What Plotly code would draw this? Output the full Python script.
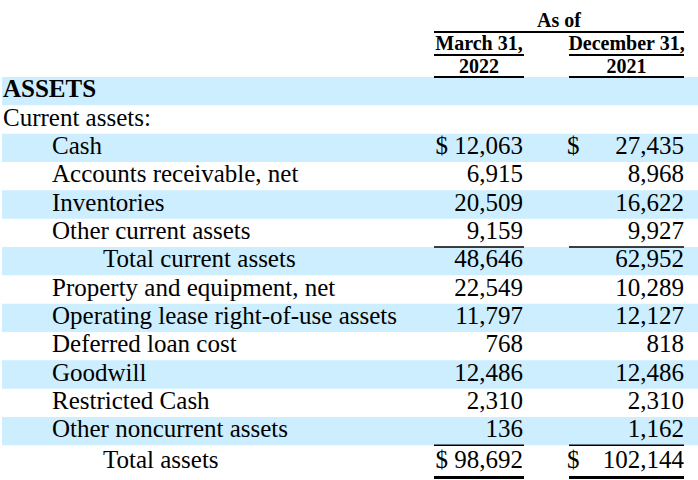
import plotly.graph_objects as go

labels = ["ASSETS", "Current assets:", "Cash", "Accounts receivable, net", "Inventories",
          "Other current assets", "Total current assets", "Property and equipment, net",
          "Operating lease right-of-use assets", "Deferred loan cost", "Goodwill",
          "Restricted Cash", "Other noncurrent assets", "Total assets"]
indent = [0, 0, 1, 1, 1, 1, 2, 1, 1, 1, 1, 1, 1, 2]
mar_2022 = [None, None, 12063, 6915, 20509, 9159, 48646, 22549, 11797, 768, 12486, 2310, 136, 98692]
dec_2021 = [None, None, 27435, 8968, 16622, 9927, 62952, 10289, 12127, 818, 12486, 2310, 1162, 102144]
dollar_rows = [2, 13]

FONT = "Liberation Serif, Times New Roman, serif"
top, h = 77, 28.33
indent_x = [3, 52, 103]
col1_l, col1_r = 434, 524
col2_l, col2_r = 569, 684

def yc(i):
    # the grand total row sits a little lower (extra padding above it)
    return top + h * i + h / 2 + (2.5 if i == 13 else 0)

fig = go.Figure()

shapes = []
for i in range(len(labels)):
    if i % 2 == 0 and i < 13:
        shapes.append(dict(type="rect", x0=2, x1=700, y0=top + h * i, y1=top + h * (i + 1),
                           fillcolor="#CCEEFF", line_width=0, layer="below"))

def hline(x0, x1, y, w=1.5):
    shapes.append(dict(type="line", x0=x0, x1=x1, y0=y, y1=y, line=dict(color="black", width=w)))

hline(col1_l, col2_r, 32, 2)
hline(col1_l, col1_r, 55, 2)
hline(col2_l, col2_r, 55, 2)
hline(col1_l, col1_r, 77, 2)
hline(col2_l, col2_r, 77, 2)
for r in (5, 12):
    hline(col1_l, col1_r, top + h * (r + 1))
    hline(col2_l, col2_r, top + h * (r + 1))
hline(col1_l, col1_r, 477.5, 3)
hline(col2_l, col2_r, 477.5, 3)

# row labels
fig.add_trace(go.Scatter(
    x=[indent_x[k] for k in indent], y=[yc(i) for i in range(len(labels))],
    mode="text", textposition="middle right",
    text=["<b>%s</b>" % t if i == 0 else t for i, t in enumerate(labels)],
    textfont=dict(family=FONT, size=25, color="black"), hoverinfo="skip"))

# March 31, 2022 column
rows1 = [i for i, v in enumerate(mar_2022) if v is not None]
fig.add_trace(go.Scatter(
    x=[col1_r - 1] * len(rows1), y=[yc(i) for i in rows1],
    mode="text", textposition="middle left",
    text=[("$ " if i in dollar_rows else "") + f"{mar_2022[i]:,}" for i in rows1],
    textfont=dict(family=FONT, size=25, color="black"), hoverinfo="skip"))

# December 31, 2021 column
rows2 = [i for i, v in enumerate(dec_2021) if v is not None]
fig.add_trace(go.Scatter(
    x=[col2_r] * len(rows2), y=[yc(i) for i in rows2],
    mode="text", textposition="middle left",
    text=[f"{dec_2021[i]:,}" for i in rows2],
    textfont=dict(family=FONT, size=25, color="black"), hoverinfo="skip"))
fig.add_trace(go.Scatter(
    x=[col2_l - 2] * len(dollar_rows), y=[yc(i) for i in dollar_rows],
    mode="text", textposition="middle right", text=["$"] * len(dollar_rows),
    textfont=dict(family=FONT, size=25, color="black"), hoverinfo="skip"))

# header
fig.add_trace(go.Scatter(
    x=[(col1_l + col2_r) / 2, (col1_l + col1_r) / 2, (col1_l + col1_r) / 2,
       (col2_l + col2_r) / 2, (col2_l + col2_r) / 2],
    y=[22, 45, 68, 45, 68],
    mode="text", textposition="middle center",
    text=["<b>As of</b>", "<b>March 31,</b>", "<b>2022</b>", "<b>December 31,</b>", "<b>2021</b>"],
    textfont=dict(family=FONT, size=20, color="black"), hoverinfo="skip"))

fig.update_layout(
    width=698, height=480, autosize=False, showlegend=False,
    margin=dict(l=0, r=0, t=0, b=0),
    paper_bgcolor="white", plot_bgcolor="white",
    xaxis=dict(range=[0, 698], visible=False, fixedrange=True),
    yaxis=dict(range=[480, 0], visible=False, fixedrange=True),
    shapes=shapes)

fig.write_html("out.html", config={"displayModeBar": False},
               post_script="document.body.style.margin='0px';")
